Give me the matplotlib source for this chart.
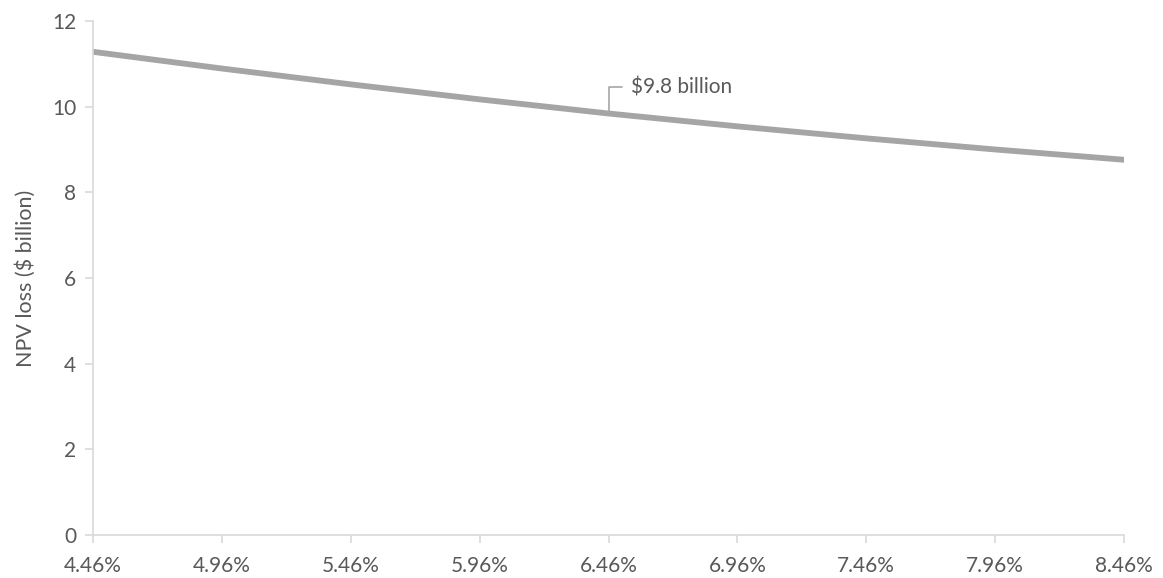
import matplotlib.pyplot as plt

# discount rate (%) vs NPV loss ($ billion)
rates = [4.46, 4.96, 5.46, 5.96, 6.46, 6.96, 7.46, 7.96, 8.46]
npv_loss = [11.28, 10.89, 10.52, 10.17, 9.84, 9.54, 9.26, 9.00, 8.76]
tick_labels = [f"{r:.2f}%" for r in rates]
label_rate = 6.46
label_text = "$9.8 billion"

plt.rcParams['font.family'] = ['Lato', 'DejaVu Sans']
txt = '#595959'
axis_col = '#d9d9d9'

fig = plt.figure(figsize=(11.63, 5.78), dpi=100)
ax = fig.add_axes([0.080, 0.0744, 0.8865, 0.8893])

ax.plot(rates, npv_loss, color='#a5a5a5', linewidth=4.2, solid_capstyle='round')

ax.set_xlim(rates[0], rates[-1])
ax.set_ylim(0, 12)
ax.set_xticks(rates)
ax.set_xticklabels(tick_labels)
ax.set_yticks(range(0, 13, 2))

for s in ['top', 'right']:
    ax.spines[s].set_visible(False)
for s in ['left', 'bottom']:
    ax.spines[s].set_color(axis_col)
    ax.spines[s].set_linewidth(1.2)
ax.tick_params(axis='both', colors=axis_col, labelcolor=txt, labelsize=15, length=6, width=1.2)
ax.tick_params(axis='x', pad=9)
ax.tick_params(axis='y', pad=6)
ax.set_ylabel('NPV loss ($ billion)', color=txt, fontsize=15.5, labelpad=12)

i = rates.index(label_rate)
ax.annotate(label_text.replace('$', r'\$'), xy=(rates[i], npv_loss[i]), xytext=(16, 19),
            textcoords='offset points', fontsize=15, color=txt, va='center', ha='left',
            arrowprops=dict(arrowstyle='-', color='#a5a5a5', lw=1.2, shrinkA=4, shrinkB=2,
                            connectionstyle='angle,angleA=0,angleB=90,rad=0'))

fig.savefig('out.png', dpi=100)
